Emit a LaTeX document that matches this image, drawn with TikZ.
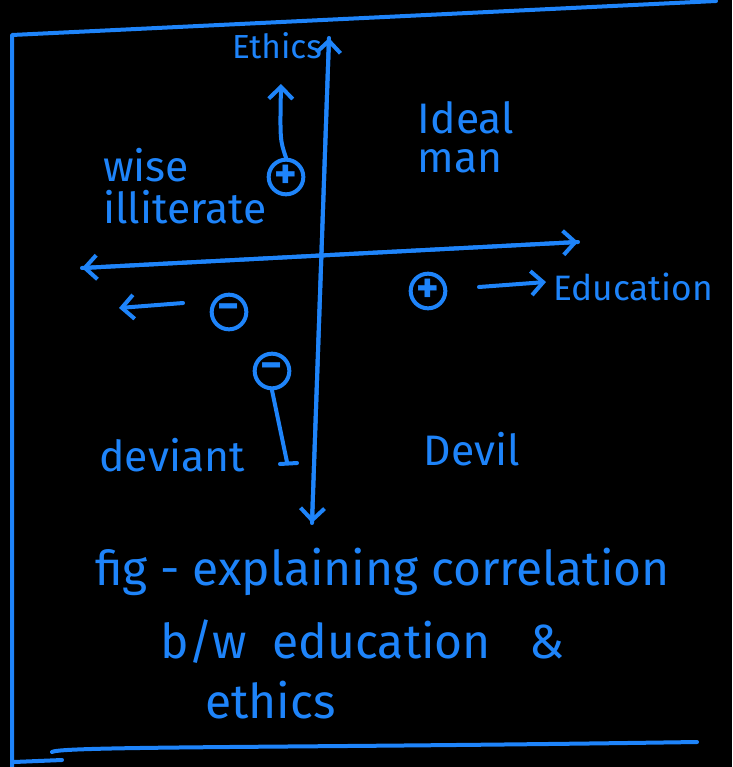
\documentclass[tikz,border=0pt]{standalone}
\usepackage{fontspec}
\setmainfont{Fira Sans}
\usetikzlibrary{arrows.meta}
\definecolor{ink}{RGB}{30,132,250}
\begin{document}
\begin{tikzpicture}[x=0.75pt,y=-0.75pt,
  pen/.style={draw=ink,line width=3pt,line cap=round,line join=round},
  arr/.style={pen,-{Straight Barb[length=9pt,width=18pt,line width=3pt]}},
  sign/.style={circle,draw=ink,line width=3pt,minimum size=26pt,inner sep=0pt,text=ink,font=\fontsize{32}{32}\selectfont\bfseries},
  lbl/.style={text=ink,font=\fontsize{32}{36}\selectfont,inner sep=0pt},
  captxt/.style={text=ink,font=\fontsize{36}{40}\selectfont,inner sep=0pt,anchor=west}]
\fill[black] (0,0) rectangle (732,767);
\useasboundingbox (0,0) rectangle (732,767);
% frame
\coordinate (tl) at (12,35);
\coordinate (tr) at (716,1);
\coordinate (bl) at (12,767);
\draw[pen] (tr) -- (tl) -- (bl);
\coordinate (b1) at (52,752);
\coordinate (b2) at (697,742);
\draw[pen] (b1) .. controls (60,746) and (300,748) .. (b2);
\coordinate (b3) at (14,762);
\coordinate (b4) at (62,760);
\draw[pen] (b3) -- (b4);
% axes
\coordinate (ytop) at (329,38);
\coordinate (ybot) at (312,523);
\coordinate (xl) at (82,268);
\coordinate (xr) at (578,242);
\draw[arr] (ybot) -- (ytop);
\draw[arr] (ytop) -- (ybot);
\draw[arr] (xr) -- (xl);
\draw[arr] (xl) -- (xr);
% labels
\node[lbl,font=\fontsize{25}{26}\selectfont] (eth) at (277,46) {Ethics};
\node[lbl] (ideal) at (466,118) {Ideal};
\node[lbl] (man) at (460,161) {man};
\node[lbl,anchor=west] (wise) at (103,165) {wise};
\node[lbl,anchor=west] (illit) at (103,207) {illiterate};
\node[lbl] (deviant) at (172,455) {deviant};
\node[lbl] (devil) at (472,449) {Devil};
\node[lbl,anchor=west,font=\fontsize{26.5}{30}\selectfont] (edu) at (553,287) {Education};
% signs
\node[sign] (p1) at (286,177) {+};
\node[sign] (m1) at (229,312) {−};
\node[sign] (p2) at (428,291) {+};
\node[sign] (m2) at (272,371) {−};
% small arrows
\coordinate (a1) at (281,84);
\draw[arr] (p1.north) .. controls (280,140) .. (a1);
\coordinate (a2s) at (183,303);
\coordinate (a2e) at (119,308);
\draw[arr] (a2s) -- (a2e);
\coordinate (a3s) at (479,287);
\coordinate (a3e) at (546,282);
\draw[arr] (a3s) -- (a3e);
\coordinate (m2e) at (287,462);
\draw[pen] (m2.south) -- (m2e);
\coordinate (t1) at (280,464);
\coordinate (t2) at (297,463);
\draw[pen] (t1) -- (t2);
% caption
\node[captxt] (c1) at (95,572) {fig - explaining correlation};
\node[captxt] (c2) at (160,642) {b/w \ education \ \ \&};
\node[captxt] (c3) at (205,700) {ethics};
\end{tikzpicture}
\end{document}
